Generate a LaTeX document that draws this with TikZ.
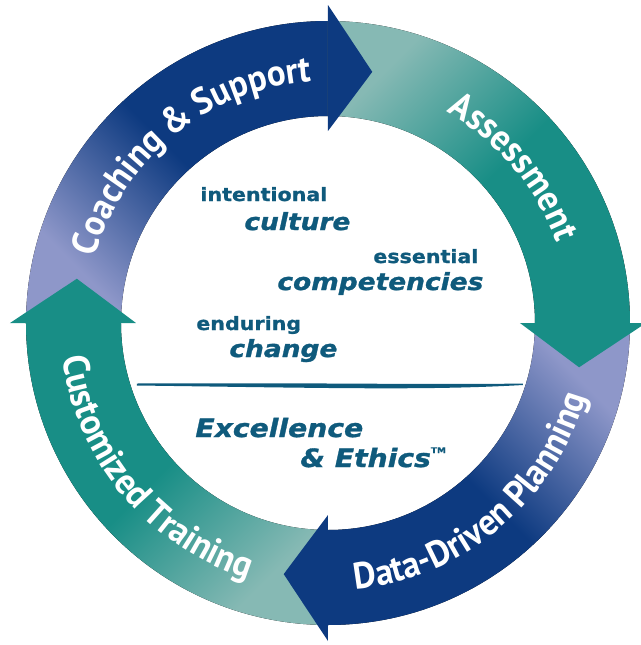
\documentclass[tikz,border=0pt]{standalone}
\usepackage{fontspec}
\usetikzlibrary{decorations.text}
\newfontfamily\ringfont{PT Sans}[FakeStretch=0.94, WordSpace=0.85]
\newfontfamily\ctrfont{DejaVu Sans}[FakeStretch=1.12, FakeBold=1.2]
\definecolor{cycnavy}{HTML}{0D3A80}
\definecolor{cyclav}{HTML}{8E97C9}
\definecolor{cycteal}{HTML}{188E86}
\definecolor{cycmint}{HTML}{86B9B4}
\definecolor{ctrblue}{HTML}{0F5A7C}
\pgfdeclarehorizontalshading{navyfade}{100bp}{color(0bp)=(cyclav); color(27bp)=(cyclav); color(52bp)=(cycnavy); color(100bp)=(cycnavy)}
\pgfdeclarehorizontalshading{tealfade}{100bp}{color(0bp)=(cycmint); color(27bp)=(cycmint); color(52bp)=(cycteal); color(100bp)=(cycteal)}
\tikzset{
  ringlabel/.style={decorate, decoration={text along path, text align=center,
    text={|\ringfont\bfseries\fontsize{18.5}{18.5}\selectfont\color{white}|#1}}},
  small/.style={anchor=base west, inner sep=0pt, text=ctrblue, font=\ctrfont\bfseries\fontsize{9.2}{9.2}\selectfont},
  big/.style={anchor=base west, inner sep=0pt, text=ctrblue, font=\ctrfont\bfseries\itshape\fontsize{11.8}{11.8}\selectfont},
  motto/.style={anchor=base west, inner sep=0pt, text=ctrblue, font=\ctrfont\bfseries\itshape\fontsize{12.6}{12.6}\selectfont},
}
\begin{document}
\begin{tikzpicture}[x=0.5pt, y=0.5pt]
  \useasboundingbox (-328,-322) rectangle (313,323);

  \foreach \a/\sh/\ang in {180/navyfade/45, 90/tealfade/-45, 0/navyfade/-135, -90/tealfade/135}
    \fill[shading=\sh, shading angle=\ang] (\a:302) arc[start angle=\a, end angle=\a-90, radius=302]
      -- ({\a-90}:207) arc[start angle=\a-90, end angle=\a, radius=207] -- cycle;
  \foreach \a/\c in {90/cycnavy, 0/cycteal, -90/cycnavy, 180/cycteal}
    \fill[\c] (\a:192) -- (\a:318) -- ({\a-10}:255) -- cycle;

  \path[ringlabel={Coaching {\&} Support}] (174:242) arc[start angle=174, end angle=84, radius=242];
  \path[ringlabel={Assessment}] (85:242) arc[start angle=85, end angle=-5, radius=242];
  \path[ringlabel={Data-Driven Planning}] (-100:268) arc[start angle=-100, end angle=0, radius=268];
  \path[ringlabel={Customized Training}] (170:268) arc[start angle=170, end angle=270, radius=268];

  \node[small] (intent) at (-128,122) {intentional};
  \node[big] (culture) at (-84,93) {culture};
  \node[small] (essent) at (45,60) {essential};
  \node[big] (compet) at (-51,33) {competencies};
  \node[small] (endur) at (-132,-7) {enduring};
  \node[big] (change) at (-99,-34) {change};

  \fill[ctrblue] (-191,-60.5) .. controls (0,-59.5) and (100,-62) .. (195,-60.5)
    -- (195,-62) .. controls (100,-67.5) and (0,-65) .. (-191,-62.5) -- cycle;

  \node[motto] (excel) at (-133,-114) {Excellence};
  \node[motto] (ethics) at (-28,-144) {\& Ethics\raisebox{0.55em}{\fontsize{4}{4}\selectfont\upshape TM}};
\end{tikzpicture}
\end{document}
